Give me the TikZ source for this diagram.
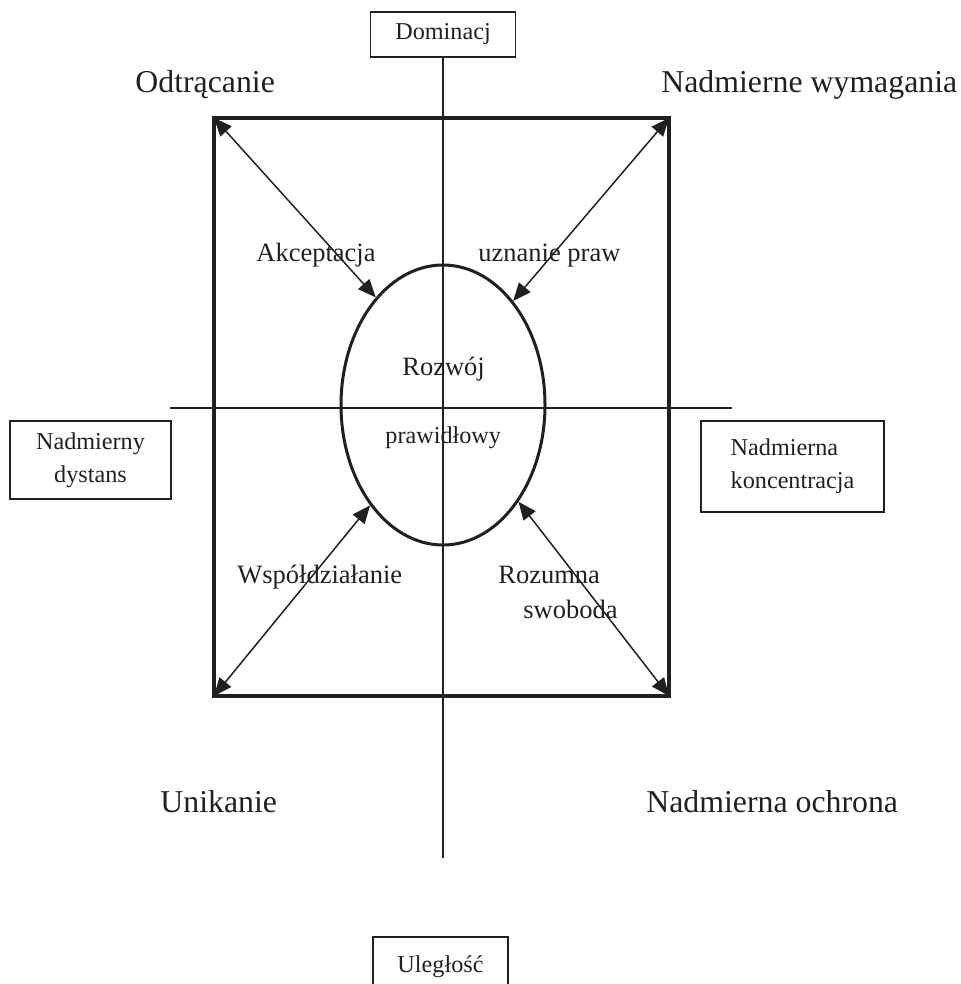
\documentclass[tikz,border=0pt]{standalone}
\usepackage{fontspec}
\setmainfont{Liberation Serif}
\usetikzlibrary{positioning,arrows.meta,shapes.geometric}
\definecolor{ink}{HTML}{231F20}

\begin{document}
\begin{tikzpicture}[x=0.5pt,y=-0.5pt,
  big/.style={anchor=base west,inner sep=0pt,font=\fontsize{15.9}{19}\selectfont,text=ink},
  mid/.style={anchor=base west,inner sep=0pt,font=\fontsize{13.25}{16}\selectfont,text=ink},
  sml/.style={anchor=base west,inner sep=0pt,font=\fontsize{12.1}{16.5}\selectfont,text=ink},
  tag/.style={draw=ink,line width=0.75pt,inner sep=0pt,font=\fontsize{12.1}{16.5}\selectfont,text=ink},
  axis/.style={draw=ink,line width=0.8pt},
  arr/.style={{Triangle[length=9pt,width=7.5pt]}-{Triangle[length=9pt,width=7.5pt]},line width=0.75pt,ink}]
\clip (0,0) rectangle (960,984);
% frame and core
\node[draw=ink,line width=2pt,minimum width=227.5pt,minimum height=289pt,inner sep=0pt,outer sep=0pt] (frm) at (441.5,407) {};
\node[ellipse,draw=ink,line width=1.5pt,minimum width=102pt,minimum height=140pt,inner sep=0pt] (ell) at (443,405) {};
% boxes on the axes
\node[tag,minimum width=72.5pt,minimum height=22.5pt] (dom) at (443,34.5) {Dominacj};
\node[tag,minimum width=80.5pt,minimum height=39pt,align=center] (dyst) at (90.5,460) {Nadmierny\\dystans};
\node[tag,minimum width=91.5pt,minimum height=45.5pt,align=left] (konc) at (792.5,466.5) {Nadmierna\\koncentracja};
\node[tag,minimum width=67.5pt,minimum height=30pt,anchor=north] (ulg) at (440.5,936) {Uległość};
% axes
\coordinate (vbot) at (443,858);
\coordinate (hl) at (170,408);
\coordinate (hr) at (732,408);
\draw[axis] (dom.south) -- (vbot);
\draw[axis] (hl) -- (hr);
% arrows
\draw[arr] (frm.north west) -- (ell.122);
\draw[arr] (frm.north east) -- (ell.56);
\draw[arr] (frm.south west) -- (ell.234);
\draw[arr] (frm.south east) -- (ell.308);
% corner labels
\node[big] (odt) at (135,93) {Odtrącanie};
\node[big] (wym) at (661,93) {Nadmierne wymagania};
\node[big] (unik) at (160,812) {Unikanie};
\node[big] (ochr) at (646,812) {Nadmierna ochrona};
% inner labels
\node[mid] (akc) at (256,262) {Akceptacja};
\node[mid] (uzn) at (478,262) {uznanie praw};
\node[mid] (roz) at (402,375) {Rozwój};
\node[sml] (praw) at (385,443) {prawidłowy};
\node[mid] (wsp) at (237,583) {Współdziałanie};
\node[mid] (rozu) at (498,583) {Rozumna};
\node[mid] (swo) at (523,618) {swoboda};
\end{tikzpicture}
\end{document}
